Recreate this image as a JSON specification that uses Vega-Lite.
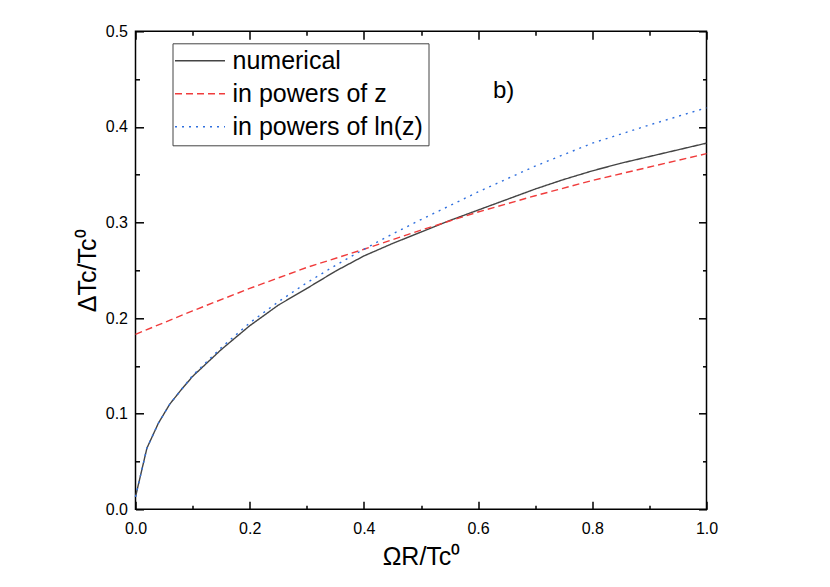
{
  "$schema": "https://vega.github.io/schema/vega-lite/v6.json",
  "width": 571,
  "height": 478,
  "autosize": {"type": "none"},
  "padding": {"left": 135.5, "top": 31.3, "right": 123.5, "bottom": 77.7},
  "background": "white",
  "config": {
    "view": {"stroke": "black", "strokeWidth": 1.5},
    "font": "Liberation Sans",
    "axis": {
      "domain": false, "grid": false, "labelFlush": false,
      "labelFont": "Liberation Sans", "labelFontSize": 16, "labelColor": "black",
      "tickColor": "black", "tickWidth": 1.5,
      "titleFont": "Liberation Sans", "titleFontWeight": "normal", "titleFontSize": 25, "titleColor": "black"
    }
  },
  "datasets": {
    "curves": [
      {"x": 0, "y": 0.013, "series": "numerical"},
      {"x": 0.02, "y": 0.064, "series": "numerical"},
      {"x": 0.04, "y": 0.09, "series": "numerical"},
      {"x": 0.06, "y": 0.11, "series": "numerical"},
      {"x": 0.08, "y": 0.125, "series": "numerical"},
      {"x": 0.1, "y": 0.139, "series": "numerical"},
      {"x": 0.125, "y": 0.153, "series": "numerical"},
      {"x": 0.15, "y": 0.167, "series": "numerical"},
      {"x": 0.2, "y": 0.192, "series": "numerical"},
      {"x": 0.25, "y": 0.2135, "series": "numerical"},
      {"x": 0.3, "y": 0.231, "series": "numerical"},
      {"x": 0.35, "y": 0.249, "series": "numerical"},
      {"x": 0.4, "y": 0.265, "series": "numerical"},
      {"x": 0.45, "y": 0.278, "series": "numerical"},
      {"x": 0.5, "y": 0.29, "series": "numerical"},
      {"x": 0.55, "y": 0.302, "series": "numerical"},
      {"x": 0.6, "y": 0.313, "series": "numerical"},
      {"x": 0.65, "y": 0.324, "series": "numerical"},
      {"x": 0.7, "y": 0.335, "series": "numerical"},
      {"x": 0.75, "y": 0.345, "series": "numerical"},
      {"x": 0.8, "y": 0.354, "series": "numerical"},
      {"x": 0.85, "y": 0.362, "series": "numerical"},
      {"x": 0.9, "y": 0.369, "series": "numerical"},
      {"x": 0.95, "y": 0.376, "series": "numerical"},
      {"x": 1.0, "y": 0.383, "series": "numerical"},
      {"x": 0, "y": 0.183, "series": "in powers of z"},
      {"x": 0.1, "y": 0.2076, "series": "in powers of z"},
      {"x": 0.2, "y": 0.231, "series": "in powers of z"},
      {"x": 0.3, "y": 0.253, "series": "in powers of z"},
      {"x": 0.4, "y": 0.272, "series": "in powers of z"},
      {"x": 0.5, "y": 0.292, "series": "in powers of z"},
      {"x": 0.6, "y": 0.311, "series": "in powers of z"},
      {"x": 0.7, "y": 0.328, "series": "in powers of z"},
      {"x": 0.8, "y": 0.344, "series": "in powers of z"},
      {"x": 0.9, "y": 0.358, "series": "in powers of z"},
      {"x": 1.0, "y": 0.372, "series": "in powers of z"},
      {"x": 0, "y": 0.013, "series": "in powers of ln(z)"},
      {"x": 0.02, "y": 0.064, "series": "in powers of ln(z)"},
      {"x": 0.04, "y": 0.09, "series": "in powers of ln(z)"},
      {"x": 0.06, "y": 0.11, "series": "in powers of ln(z)"},
      {"x": 0.08, "y": 0.125, "series": "in powers of ln(z)"},
      {"x": 0.1, "y": 0.14, "series": "in powers of ln(z)"},
      {"x": 0.15, "y": 0.169, "series": "in powers of ln(z)"},
      {"x": 0.2, "y": 0.195, "series": "in powers of ln(z)"},
      {"x": 0.25, "y": 0.217, "series": "in powers of ln(z)"},
      {"x": 0.3, "y": 0.237, "series": "in powers of ln(z)"},
      {"x": 0.35, "y": 0.255, "series": "in powers of ln(z)"},
      {"x": 0.4, "y": 0.272, "series": "in powers of ln(z)"},
      {"x": 0.45, "y": 0.288, "series": "in powers of ln(z)"},
      {"x": 0.5, "y": 0.303, "series": "in powers of ln(z)"},
      {"x": 0.6, "y": 0.332, "series": "in powers of ln(z)"},
      {"x": 0.7, "y": 0.359, "series": "in powers of ln(z)"},
      {"x": 0.8, "y": 0.383, "series": "in powers of ln(z)"},
      {"x": 0.9, "y": 0.402, "series": "in powers of ln(z)"},
      {"x": 1.0, "y": 0.42, "series": "in powers of ln(z)"}
    ],
    "ann": [{"x": 0.626, "y": 0.438, "t": "b)"}]
  },
  "layer": [
    {
      "data": {"name": "curves"},
      "mark": {"type": "line", "strokeWidth": 1.4},
      "encoding": {
        "x": {"field": "x", "type": "quantitative", "scale": {"domain": [0, 1]},
          "axis": {"orient": "bottom", "values": [0, 0.2, 0.4, 0.6, 0.8, 1], "format": ".1f", "ticks": false, "labelPadding": 11, "title": "ΩR/Tc⁰", "titlePadding": 8}},
        "y": {"field": "y", "type": "quantitative", "scale": {"domain": [0, 0.5]},
          "axis": {"orient": "left", "values": [0, 0.1, 0.2, 0.3, 0.4, 0.5], "format": ".1f", "ticks": false, "labelPadding": 8, "title": "ΔTc/Tc⁰", "titlePadding": 5}},
        "color": {"field": "series", "type": "nominal",
          "scale": {"domain": ["numerical", "in powers of z", "in powers of ln(z)"], "range": ["#444444", "#f03c3c", "#2f6fde"]},
          "legend": {"orient": "none", "legendX": 37, "legendY": 12, "title": null, "symbolType": "M-2.5,0H2.5", "symbolSize": 400, "symbolStrokeWidth": 1.5, "labelFontSize": 25, "labelLimit": 500, "labelFont": "Liberation Sans", "labelColor": "black", "strokeColor": "#444", "fillColor": "white", "padding": 5, "rowPadding": 7, "symbolOffset": 10, "labelOffset": 20}},
        "strokeDash": {"field": "series", "type": "nominal",
          "scale": {"domain": ["numerical", "in powers of z", "in powers of ln(z)"], "range": [[1, 0], [7, 4], [2, 5]]},
          "legend": {"orient": "none", "legendX": 37, "legendY": 12, "title": null, "symbolType": "M-2.5,0H2.5", "symbolSize": 400, "symbolStrokeWidth": 1.5, "labelFontSize": 25, "labelLimit": 500, "labelFont": "Liberation Sans", "labelColor": "black", "strokeColor": "#444", "fillColor": "white", "padding": 5, "rowPadding": 7, "symbolOffset": 10, "labelOffset": 20}}
      }
    },
    {
      "data": {"name": "ann"},
      "mark": {"type": "point", "opacity": 0},
      "encoding": {
        "x": {"field": "x", "type": "quantitative", "axis": {"orient": "bottom", "values": [0, 0.2, 0.4, 0.6, 0.8, 1], "labels": false, "tickSize": -8, "title": null}},
        "y": {"field": "y", "type": "quantitative", "axis": {"orient": "left", "values": [0, 0.1, 0.2, 0.3, 0.4, 0.5], "labels": false, "tickSize": -8, "title": null}}
      }
    },
    {
      "data": {"name": "ann"},
      "mark": {"type": "point", "opacity": 0},
      "encoding": {
        "x": {"field": "x", "type": "quantitative", "axis": {"orient": "bottom", "values": [0.1, 0.3, 0.5, 0.7, 0.9], "labels": false, "tickSize": -4, "title": null}},
        "y": {"field": "y", "type": "quantitative", "axis": {"orient": "left", "values": [0.05, 0.15, 0.25, 0.35, 0.45], "labels": false, "tickSize": -4, "title": null}}
      }
    },
    {
      "data": {"name": "ann"},
      "mark": {"type": "point", "opacity": 0},
      "encoding": {
        "x": {"field": "x", "type": "quantitative", "axis": {"orient": "top", "values": [0, 0.2, 0.4, 0.6, 0.8, 1], "labels": false, "tickSize": -8, "title": null}},
        "y": {"field": "y", "type": "quantitative", "axis": {"orient": "right", "values": [0, 0.1, 0.2, 0.3, 0.4, 0.5], "labels": false, "tickSize": -8, "title": null}}
      }
    },
    {
      "data": {"name": "ann"},
      "mark": {"type": "point", "opacity": 0},
      "encoding": {
        "x": {"field": "x", "type": "quantitative", "axis": {"orient": "top", "values": [0.1, 0.3, 0.5, 0.7, 0.9], "labels": false, "tickSize": -4, "title": null}},
        "y": {"field": "y", "type": "quantitative", "axis": {"orient": "right", "values": [0.05, 0.15, 0.25, 0.35, 0.45], "labels": false, "tickSize": -4, "title": null}}
      }
    },
    {
      "data": {"name": "ann"},
      "mark": {"type": "text", "fontSize": 24, "font": "Liberation Sans", "align": "left", "baseline": "middle", "color": "black"},
      "encoding": {
        "x": {"field": "x", "type": "quantitative", "axis": null},
        "y": {"field": "y", "type": "quantitative", "axis": null},
        "text": {"field": "t", "type": "nominal"}
      }
    }
  ],
  "resolve": {"axis": {"x": "independent", "y": "independent"}}
}
